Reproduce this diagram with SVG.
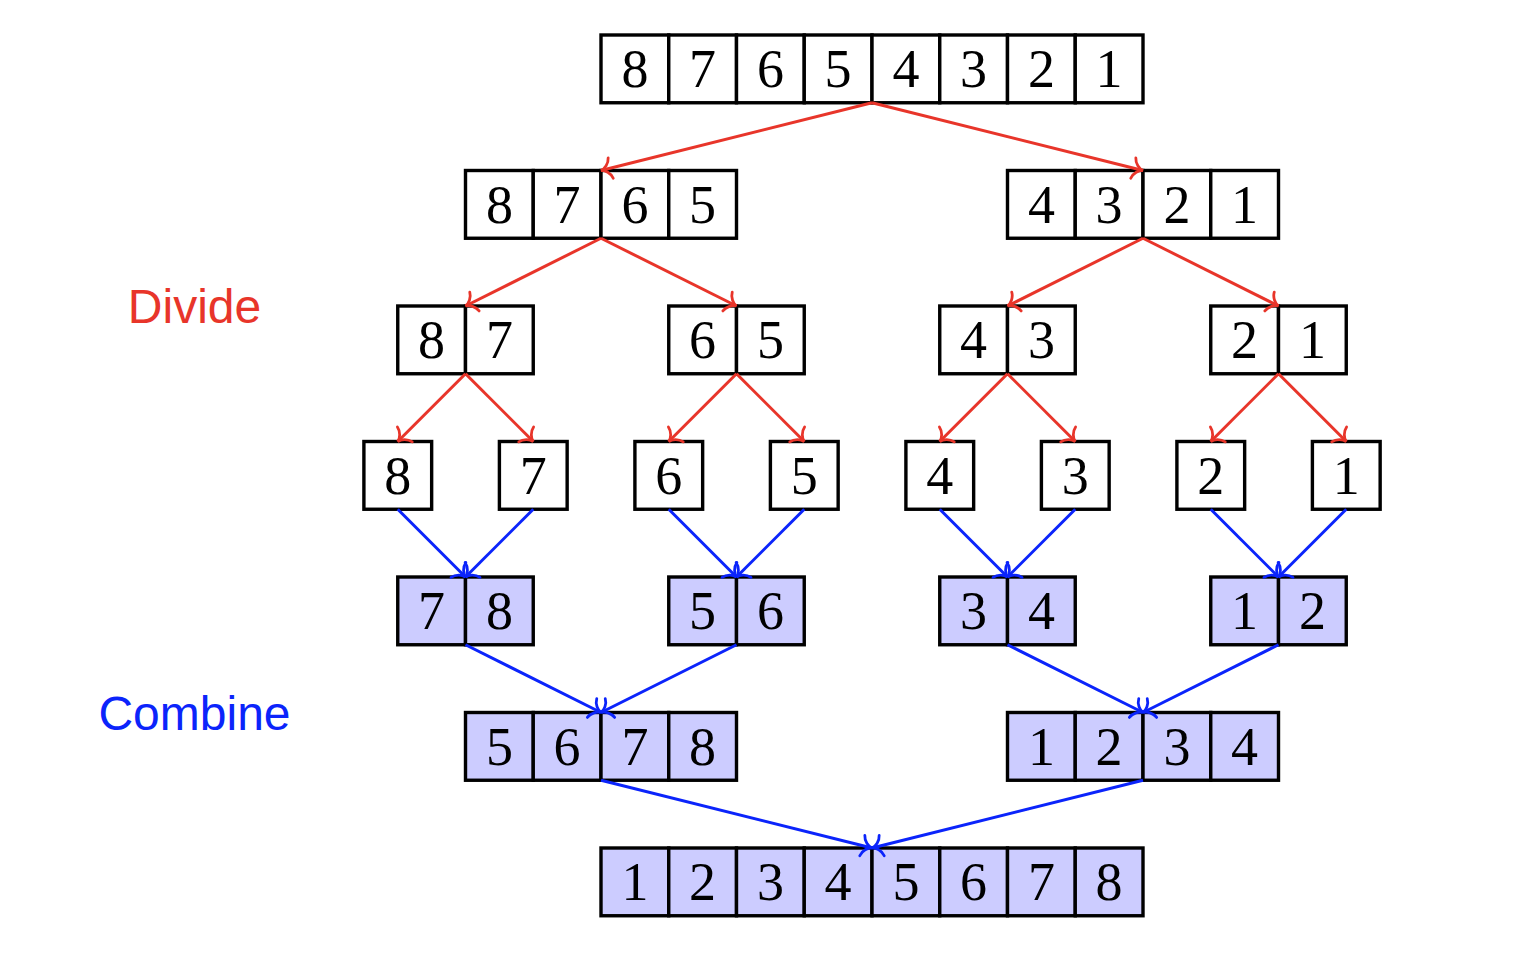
<svg xmlns="http://www.w3.org/2000/svg" width="1514" height="960" viewBox="0 0 1514 960">
<style>
.c{fill:#fff;stroke:#000;stroke-width:3.4}
.b .c{fill:#ccccff}
.t{font-family:"Liberation Serif","DejaVu Serif",serif;font-size:54px;text-anchor:middle;fill:#000}
.r line{stroke:#e8352a;stroke-width:3;fill:none}
.u line{stroke:#0b24fb;stroke-width:3;fill:none}
.lab{font-family:"Liberation Sans","DejaVu Sans",sans-serif;font-size:48px;text-anchor:middle}
</style>
<defs>
<marker id="ar" viewBox="-14 -14 17 28" refX="0" refY="0" markerWidth="17" markerHeight="28" markerUnits="userSpaceOnUse" orient="auto" overflow="visible">
<path d="M -10 -10.5 C -9 -5 -4 -0.6 0 0 C -4 0.6 -9 5 -10 10.5" fill="none" stroke="#e8352a" stroke-width="2.8" stroke-linecap="round"/>
</marker>
<marker id="ab" viewBox="-14 -14 17 28" refX="0" refY="0" markerWidth="17" markerHeight="28" markerUnits="userSpaceOnUse" orient="auto" overflow="visible">
<path d="M -10 -10.5 C -9 -5 -4 -0.6 0 0 C -4 0.6 -9 5 -10 10.5" fill="none" stroke="#0b24fb" stroke-width="2.8" stroke-linecap="round"/>
</marker>
</defs>
<rect width="1514" height="960" fill="#fff"/>
<text class="lab" x="194.5" y="323" fill="#e8352a">Divide</text>
<text class="lab" x="194.5" y="730" fill="#0b24fb">Combine</text>
<!-- Row 0 -->
<g id="r0">
<rect class="c" x="601" y="35" width="67.75" height="67.75"/><rect class="c" x="668.75" y="35" width="67.75" height="67.75"/><rect class="c" x="736.5" y="35" width="67.75" height="67.75"/><rect class="c" x="804.25" y="35" width="67.75" height="67.75"/><rect class="c" x="872" y="35" width="67.75" height="67.75"/><rect class="c" x="939.75" y="35" width="67.75" height="67.75"/><rect class="c" x="1007.5" y="35" width="67.75" height="67.75"/><rect class="c" x="1075.25" y="35" width="67.75" height="67.75"/>
<text class="t" x="634.9" y="87">8</text><text class="t" x="702.6" y="87">7</text><text class="t" x="770.4" y="87">6</text><text class="t" x="838.1" y="87">5</text><text class="t" x="905.9" y="87">4</text><text class="t" x="973.6" y="87">3</text><text class="t" x="1041.4" y="87">2</text><text class="t" x="1109.1" y="87">1</text>
</g>
<!-- Row 1 -->
<g id="r1a">
<rect class="c" x="465.5" y="170.5" width="67.75" height="67.75"/><rect class="c" x="533.25" y="170.5" width="67.75" height="67.75"/><rect class="c" x="601" y="170.5" width="67.75" height="67.75"/><rect class="c" x="668.75" y="170.5" width="67.75" height="67.75"/>
<text class="t" x="499.4" y="222.5">8</text><text class="t" x="567.1" y="222.5">7</text><text class="t" x="634.9" y="222.5">6</text><text class="t" x="702.6" y="222.5">5</text>
</g>
<g id="r1b">
<rect class="c" x="1007.5" y="170.5" width="67.75" height="67.75"/><rect class="c" x="1075.25" y="170.5" width="67.75" height="67.75"/><rect class="c" x="1143" y="170.5" width="67.75" height="67.75"/><rect class="c" x="1210.75" y="170.5" width="67.75" height="67.75"/>
<text class="t" x="1041.4" y="222.5">4</text><text class="t" x="1109.1" y="222.5">3</text><text class="t" x="1176.9" y="222.5">2</text><text class="t" x="1244.6" y="222.5">1</text>
</g>
<!-- Row 2 -->
<g id="r2a"><rect class="c" x="397.75" y="306" width="67.75" height="67.75"/><rect class="c" x="465.5" y="306" width="67.75" height="67.75"/><text class="t" x="431.6" y="358">8</text><text class="t" x="499.4" y="358">7</text></g>
<g id="r2b"><rect class="c" x="668.75" y="306" width="67.75" height="67.75"/><rect class="c" x="736.5" y="306" width="67.75" height="67.75"/><text class="t" x="702.6" y="358">6</text><text class="t" x="770.4" y="358">5</text></g>
<g id="r2c"><rect class="c" x="939.75" y="306" width="67.75" height="67.75"/><rect class="c" x="1007.5" y="306" width="67.75" height="67.75"/><text class="t" x="973.6" y="358">4</text><text class="t" x="1041.4" y="358">3</text></g>
<g id="r2d"><rect class="c" x="1210.75" y="306" width="67.75" height="67.75"/><rect class="c" x="1278.5" y="306" width="67.75" height="67.75"/><text class="t" x="1244.6" y="358">2</text><text class="t" x="1312.4" y="358">1</text></g>
<!-- Row 3 -->
<g id="r3a"><rect class="c" x="363.9" y="441.5" width="67.75" height="67.75"/><text class="t" x="397.75" y="493.5">8</text></g>
<g id="r3b"><rect class="c" x="499.4" y="441.5" width="67.75" height="67.75"/><text class="t" x="533.25" y="493.5">7</text></g>
<g id="r3c"><rect class="c" x="634.9" y="441.5" width="67.75" height="67.75"/><text class="t" x="668.75" y="493.5">6</text></g>
<g id="r3d"><rect class="c" x="770.4" y="441.5" width="67.75" height="67.75"/><text class="t" x="804.25" y="493.5">5</text></g>
<g id="r3e"><rect class="c" x="905.9" y="441.5" width="67.75" height="67.75"/><text class="t" x="939.75" y="493.5">4</text></g>
<g id="r3f"><rect class="c" x="1041.4" y="441.5" width="67.75" height="67.75"/><text class="t" x="1075.25" y="493.5">3</text></g>
<g id="r3g"><rect class="c" x="1176.9" y="441.5" width="67.75" height="67.75"/><text class="t" x="1210.75" y="493.5">2</text></g>
<g id="r3h"><rect class="c" x="1312.4" y="441.5" width="67.75" height="67.75"/><text class="t" x="1346.25" y="493.5">1</text></g>
<!-- Row 4 -->
<g id="r4a" class="b"><rect class="c" x="397.75" y="577" width="67.75" height="67.75"/><rect class="c" x="465.5" y="577" width="67.75" height="67.75"/><text class="t" x="431.6" y="629">7</text><text class="t" x="499.4" y="629">8</text></g>
<g id="r4b" class="b"><rect class="c" x="668.75" y="577" width="67.75" height="67.75"/><rect class="c" x="736.5" y="577" width="67.75" height="67.75"/><text class="t" x="702.6" y="629">5</text><text class="t" x="770.4" y="629">6</text></g>
<g id="r4c" class="b"><rect class="c" x="939.75" y="577" width="67.75" height="67.75"/><rect class="c" x="1007.5" y="577" width="67.75" height="67.75"/><text class="t" x="973.6" y="629">3</text><text class="t" x="1041.4" y="629">4</text></g>
<g id="r4d" class="b"><rect class="c" x="1210.75" y="577" width="67.75" height="67.75"/><rect class="c" x="1278.5" y="577" width="67.75" height="67.75"/><text class="t" x="1244.6" y="629">1</text><text class="t" x="1312.4" y="629">2</text></g>
<!-- Row 5 -->
<g id="r5a" class="b">
<rect class="c" x="465.5" y="712.5" width="67.75" height="67.75"/><rect class="c" x="533.25" y="712.5" width="67.75" height="67.75"/><rect class="c" x="601" y="712.5" width="67.75" height="67.75"/><rect class="c" x="668.75" y="712.5" width="67.75" height="67.75"/>
<text class="t" x="499.4" y="764.5">5</text><text class="t" x="567.1" y="764.5">6</text><text class="t" x="634.9" y="764.5">7</text><text class="t" x="702.6" y="764.5">8</text>
</g>
<g id="r5b" class="b">
<rect class="c" x="1007.5" y="712.5" width="67.75" height="67.75"/><rect class="c" x="1075.25" y="712.5" width="67.75" height="67.75"/><rect class="c" x="1143" y="712.5" width="67.75" height="67.75"/><rect class="c" x="1210.75" y="712.5" width="67.75" height="67.75"/>
<text class="t" x="1041.4" y="764.5">1</text><text class="t" x="1109.1" y="764.5">2</text><text class="t" x="1176.9" y="764.5">3</text><text class="t" x="1244.6" y="764.5">4</text>
</g>
<!-- Row 6 -->
<g id="r6" class="b">
<rect class="c" x="601" y="848" width="67.75" height="67.75"/><rect class="c" x="668.75" y="848" width="67.75" height="67.75"/><rect class="c" x="736.5" y="848" width="67.75" height="67.75"/><rect class="c" x="804.25" y="848" width="67.75" height="67.75"/><rect class="c" x="872" y="848" width="67.75" height="67.75"/><rect class="c" x="939.75" y="848" width="67.75" height="67.75"/><rect class="c" x="1007.5" y="848" width="67.75" height="67.75"/><rect class="c" x="1075.25" y="848" width="67.75" height="67.75"/>
<text class="t" x="634.9" y="900">1</text><text class="t" x="702.6" y="900">2</text><text class="t" x="770.4" y="900">3</text><text class="t" x="838.1" y="900">4</text><text class="t" x="905.9" y="900">5</text><text class="t" x="973.6" y="900">6</text><text class="t" x="1041.4" y="900">7</text><text class="t" x="1109.1" y="900">8</text>
</g>
<g id="connectors">
<g class="r">
<line x1="872" y1="102.75" x2="601" y2="170.5" marker-end="url(#ar)"/>
<line x1="872" y1="102.75" x2="1143" y2="170.5" marker-end="url(#ar)"/>
<line x1="601" y1="238.25" x2="465.5" y2="306" marker-end="url(#ar)"/>
<line x1="601" y1="238.25" x2="736.5" y2="306" marker-end="url(#ar)"/>
<line x1="1143" y1="238.25" x2="1007.5" y2="306" marker-end="url(#ar)"/>
<line x1="1143" y1="238.25" x2="1278.5" y2="306" marker-end="url(#ar)"/>
<line x1="465.5" y1="373.75" x2="397.75" y2="441.5" marker-end="url(#ar)"/>
<line x1="465.5" y1="373.75" x2="533.25" y2="441.5" marker-end="url(#ar)"/>
<line x1="736.5" y1="373.75" x2="668.75" y2="441.5" marker-end="url(#ar)"/>
<line x1="736.5" y1="373.75" x2="804.25" y2="441.5" marker-end="url(#ar)"/>
<line x1="1007.5" y1="373.75" x2="939.75" y2="441.5" marker-end="url(#ar)"/>
<line x1="1007.5" y1="373.75" x2="1075.25" y2="441.5" marker-end="url(#ar)"/>
<line x1="1278.5" y1="373.75" x2="1210.75" y2="441.5" marker-end="url(#ar)"/>
<line x1="1278.5" y1="373.75" x2="1346.25" y2="441.5" marker-end="url(#ar)"/>
</g>
<g class="u">
<line x1="397.75" y1="509.25" x2="465.5" y2="577" marker-end="url(#ab)"/>
<line x1="533.25" y1="509.25" x2="465.5" y2="577" marker-end="url(#ab)"/>
<line x1="668.75" y1="509.25" x2="736.5" y2="577" marker-end="url(#ab)"/>
<line x1="804.25" y1="509.25" x2="736.5" y2="577" marker-end="url(#ab)"/>
<line x1="939.75" y1="509.25" x2="1007.5" y2="577" marker-end="url(#ab)"/>
<line x1="1075.25" y1="509.25" x2="1007.5" y2="577" marker-end="url(#ab)"/>
<line x1="1210.75" y1="509.25" x2="1278.5" y2="577" marker-end="url(#ab)"/>
<line x1="1346.25" y1="509.25" x2="1278.5" y2="577" marker-end="url(#ab)"/>
<line x1="465.5" y1="644.75" x2="601" y2="712.5" marker-end="url(#ab)"/>
<line x1="736.5" y1="644.75" x2="601" y2="712.5" marker-end="url(#ab)"/>
<line x1="1007.5" y1="644.75" x2="1143" y2="712.5" marker-end="url(#ab)"/>
<line x1="1278.5" y1="644.75" x2="1143" y2="712.5" marker-end="url(#ab)"/>
<line x1="601" y1="780.25" x2="872" y2="848" marker-end="url(#ab)"/>
<line x1="1143" y1="780.25" x2="872" y2="848" marker-end="url(#ab)"/>
</g>
</g>
</svg>
